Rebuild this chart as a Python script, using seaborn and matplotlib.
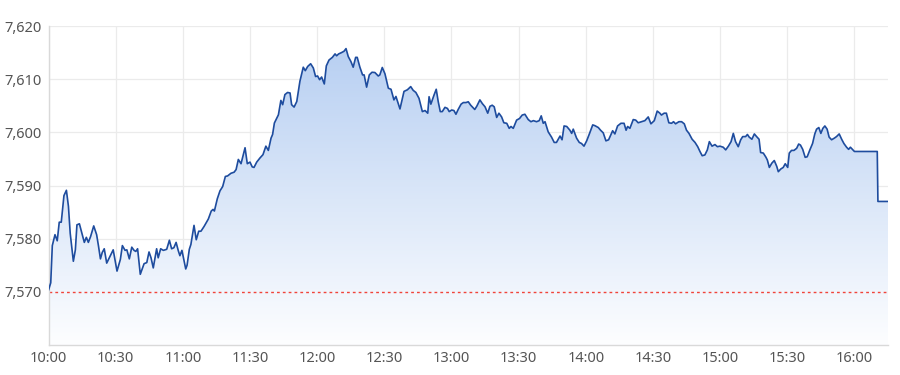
import numpy as np
import pandas as pd
import matplotlib
matplotlib.use("Agg")
import matplotlib.pyplot as plt
from matplotlib.colors import LinearSegmentedColormap
import seaborn as sns

# minutes since 10:00
minutes = [
    0, 1, 1.7, 2.9, 3.9, 4.8, 5.7, 6.9, 8, 8.9, 9.7, 11.1, 12, 12.7, 13.8, 16, 16.9, 17.8, 18.8, 20.2,
    21.5, 22.3, 23.2, 24, 24.9, 26, 28.9, 30.6, 32.1, 33, 34.2, 35, 36.1, 37.2, 38.2, 39, 39.8, 41,
    42.7, 43.9, 44.9, 45.8, 46.8, 48.3, 49, 50.1, 51.3, 52.8, 54, 55, 56, 57, 58, 58.7, 59.6, 61.3,
    61.9, 62.9, 63.6, 65, 66, 67.1, 68.1, 69.5, 71.4, 72.7, 73.5, 74.1, 75.4, 76.6, 77.8, 79, 80,
    81.5, 82.9, 83.8, 84.8, 86, 87.8, 88.8, 90, 91, 91.8, 93, 94.5, 95.8, 97.1, 98.2, 99.4, 100.1,
    100.9, 102.7, 103.8, 104.6, 105.6, 106.8, 107.9, 108.6, 109.7, 110.9, 112.3, 113.8, 114.7, 115.8,
    117.1, 118.3, 119.3, 120.2, 121.1, 122, 123.2, 124.1, 125.3, 126.8, 128, 128.7, 129.6, 130.9, 132,
    132.9, 133.9, 135.1, 136.1, 137.2, 137.9, 139.1, 140.3, 141, 142.1, 143.3, 144.5, 145.8, 147.3,
    148, 149.1, 150.3, 151.8, 153, 154.3, 155.2, 157, 158.8, 160.3, 161.8, 162.9, 164.1, 165.5, 167,
    168.2, 169.4, 170, 170.8, 172.2, 173.2, 174.1, 175, 175.9, 177.1, 178.2, 179, 180.1, 181.1, 182,
    183, 184.3, 185.3, 186.5, 187.5, 188.6, 190.4, 191.3, 192.7, 193.8, 195, 196.2, 197.2, 198.2,
    199.1, 200.2, 201.2, 202.4, 203.4, 204.7, 205.8, 206.6, 207.6, 209.1, 210.4, 211.6, 212.8, 214.3,
    215.5, 216.6, 218, 219.2, 220.1, 221, 221.8, 223.2, 224.7, 225.9, 226.9, 228.5, 229.4, 230.3,
    231.5, 232.9, 233.7, 234.4, 235.9, 237.1, 238.1, 239.2, 240.4, 241.6, 243.1, 244.1, 245.6, 246.6,
    247.8, 249, 250.2, 252, 253, 254.2, 255.7, 257.1, 258, 258.7, 259.7, 261.2, 262.3, 263.4, 264.9,
    266.4, 267.9, 269.1, 270.6, 271.9, 273.1, 273.8, 275, 276, 277.1, 278.3, 279.2, 280.1, 281.6,
    282.8, 284, 285, 286.1, 287.5, 288.8, 290, 291, 292, 293.2, 294.3, 295.2, 296.4, 297.7, 298.8,
    299.9, 301.4, 302.5, 303.7, 304.9, 305.9, 306.9, 308.1, 309.2, 310.1, 311.4, 312.2, 313, 314.2,
    315.3, 316.3, 317.4, 318.1, 319.3, 320.5, 321.1, 322, 323.1, 324.2, 325.3, 326, 327.1, 328.2,
    329.1, 330.2, 330.9, 331.9, 333, 334.2, 335.1, 335.9, 336.9, 338, 338.9, 340.1, 341.3, 342.3,
    343.1, 344.1, 345, 345.9, 346.8, 347.8, 348.7, 349.8, 351, 352, 353.2, 354.3, 355.3, 356.5,
    357.4, 358.2, 359.1, 360, 370.2, 370.5, 375,
]
prices = [
    7570.3, 7571.7, 7578.7, 7580.75, 7579.6, 7583.1, 7583.1, 7588.1, 7589.1, 7586.1, 7581, 7575.75,
    7577.9, 7582.6, 7582.8, 7579.3, 7580.25, 7579.3, 7580.4, 7582.4, 7580.75, 7578.7, 7576.2, 7577.4,
    7578.1, 7575.4, 7577.9, 7573.9, 7576.1, 7578.7, 7577.8, 7577.9, 7576.2, 7578.4, 7577.8, 7577.6,
    7578.1, 7573.3,
    7575.3, 7575.5, 7577.5, 7576.4, 7574.5, 7578.1, 7576.4, 7578.1, 7577.8, 7578, 7579.7, 7578.1,
    7578.3, 7579.3, 7577.7, 7576.8, 7577.8, 7574.3, 7575, 7578, 7578.9, 7582.5, 7579.8, 7581.4,
    7581.4, 7582.3, 7583.7, 7585.2, 7585.5, 7585.2, 7587.5, 7589, 7589.8, 7591.7, 7591.8, 7592.3,
    7592.5,
    7593.0, 7594.9, 7594.1, 7597.1, 7594.1, 7594.4, 7593.5, 7593.4, 7594.4, 7595.2, 7595.8, 7597.4,
    7596.6, 7598.9, 7599.6, 7601.75, 7603.3, 7606, 7605.2, 7607.1, 7607.5, 7607.4, 7605.2, 7604.75,
    7605.8, 7609.6, 7612.25, 7611.6, 7612.4, 7612.9, 7612.1, 7610.5, 7610.6, 7609.9, 7610.4, 7609.1,
    7612.5, 7613.6, 7614.1,
    7614.75, 7614.4, 7614.75, 7615, 7615.25, 7615.75, 7614.25, 7613.3, 7612.25, 7614.1, 7614.1,
    7612.25, 7610.8, 7610.8, 7608.5, 7610.8, 7611.3, 7611.25, 7610.6, 7610.8, 7612.2, 7611, 7608.3,
    7608.1, 7606.1, 7606.75, 7604.4, 7607.7, 7608, 7608.6, 7607.9, 7607.5, 7606.4, 7603.9, 7604.1,
    7603.6,
    7606.7, 7605.3, 7607, 7608.1, 7605.75, 7603.9, 7603.9, 7604.7, 7604.5, 7603.9, 7604.2, 7604.1,
    7603.4, 7604.3, 7605.3, 7605.6, 7605.6, 7605.75, 7605.1, 7604.3, 7604.9, 7606.1, 7605.4, 7604.8,
    7603.6, 7604.9, 7605.1, 7604.8, 7602.8, 7603.6, 7602.9, 7601.8, 7601.7, 7600.75, 7601.1, 7600.75,
    7602.3, 7602.6, 7603.25, 7603.4,
    7602.4, 7602, 7602.2, 7602, 7602.2, 7603.1, 7601.7, 7602, 7600.1, 7599.1, 7598.1, 7598.1, 7599.3,
    7598.6, 7601.2, 7601.1, 7600.4, 7599.8, 7600.6, 7598.9, 7598.1, 7597.9, 7597.4, 7598.4, 7599.7,
    7601.4, 7601.25, 7600.9, 7600.4, 7599.9, 7598.4, 7598.6, 7600.3, 7599.7, 7601.2,
    7601.7, 7601.7, 7600.4, 7601.1, 7600.75, 7602.4, 7602.3, 7601.8, 7602, 7602.2, 7602.9, 7601.6,
    7602.2, 7604, 7603.6, 7603.25, 7603.6, 7603.6, 7601.8, 7601.7, 7602, 7601.6, 7602, 7602, 7601.6,
    7600.4, 7599.8, 7598.7, 7598.1, 7597.3, 7596.4, 7595.6, 7595.75, 7596.7, 7598.25, 7597.4, 7597.7,
    7597.3, 7597.4, 7597.2, 7596.7, 7597.4, 7598.25, 7599.8, 7598.25, 7597.3, 7598.6, 7599.2, 7599.2,
    7599.6, 7599.1, 7598.7, 7599.7, 7599.2, 7598.7, 7596.2, 7596.1, 7595.3, 7594.8, 7593.4, 7594.2,
    7594.7, 7593.6, 7592.6, 7593.1, 7593.4, 7594.1, 7593.4, 7596.1, 7596.6, 7596.6, 7597, 7597.8,
    7597.6, 7596.8, 7595.3, 7595.4, 7596.7, 7597.9, 7599.7, 7600.6, 7600.9, 7599.8, 7600.75, 7601.2,
    7600.6, 7599.1, 7598.6, 7598.9, 7599.2, 7599.7, 7598.7, 7597.9, 7597.2, 7596.8, 7597.2, 7596.8,
    7596.4, 7596.4, 7587.0, 7587.0,
]
prev_close = 7570
x_ticks = [0, 30, 60, 90, 120, 150, 180, 210, 240, 270, 300, 330, 360]
x_labels = ["10:00", "10:30", "11:00", "11:30", "12:00", "12:30", "13:00",
            "13:30", "14:00", "14:30", "15:00", "15:30", "16:00"]
y_ticks = [7570, 7580, 7590, 7600, 7610, 7620]

df = pd.DataFrame({"minute": minutes, "price": prices})

sns.set_style("white")
plt.rcParams["font.family"] = ["Noto Sans", "DejaVu Sans"]

fig = plt.figure(figsize=(9, 3.75), dpi=100)
ax = fig.add_axes([48.5 / 900, 1 - 345 / 375, (888 - 48.5) / 900, (345 - 26) / 375])

xmin, xmax, ymin, ymax = 0, 375, 7560, 7620

# gradient fill under the line
cmap = LinearSegmentedColormap.from_list("g", [(0.992, 0.995, 1.0), (0.70, 0.80, 0.945)])
grad = np.linspace(0, 1, 256).reshape(-1, 1)
im = ax.imshow(grad, extent=[xmin, xmax, ymin, ymax], origin="lower", aspect="auto",
               cmap=cmap, zorder=1)
poly = ax.fill_between(df["minute"], df["price"], ymin, color="none", lw=0)
im.set_clip_path(poly.get_paths()[0], transform=ax.transData)

sns.lineplot(data=df, x="minute", y="price", ax=ax, color="#1e4c9e", linewidth=1.2,
             zorder=3, estimator=None, sort=False)

ax.axhline(prev_close, color="#f0443a", linewidth=1.0, linestyle=(0, (2, 2.2)), zorder=2)

ax.set_xlim(xmin, xmax)
ax.set_ylim(ymin, ymax)
ax.set_xticks(x_ticks)
ax.set_xticklabels(x_labels)
ax.set_yticks(y_ticks)
ax.set_yticklabels([f"{v:,}" for v in y_ticks])
ax.grid(True, color="#ebebeb", linewidth=0.9, zorder=0)
ax.set_axisbelow(True)
ax.set_xlabel("")
ax.set_ylabel("")
for s in ["top", "right"]:
    ax.spines[s].set_visible(False)
for s in ["left", "bottom"]:
    ax.spines[s].set_color("#d9d9d9")
    ax.spines[s].set_linewidth(1.0)
ax.tick_params(axis="both", length=0, labelsize=10.5, labelcolor="#555555", pad=4)
ax.tick_params(axis="y", pad=5)

fig.savefig("out.png", dpi=100, facecolor="white")
